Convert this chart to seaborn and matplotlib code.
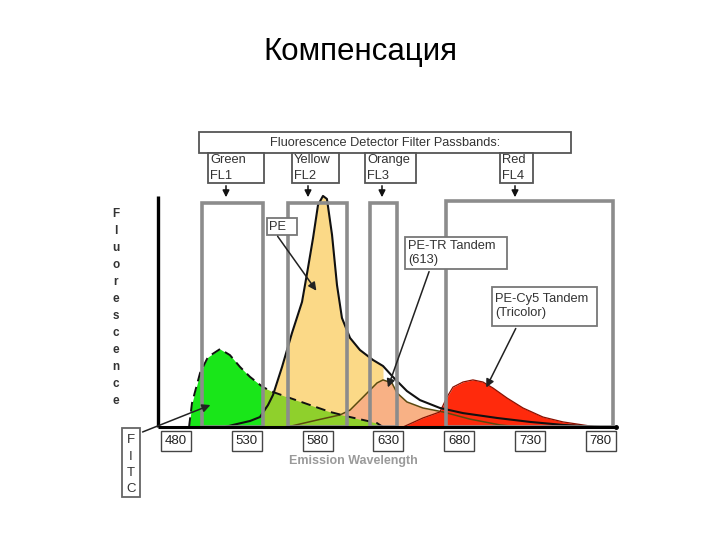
import matplotlib
matplotlib.use("Agg")
import matplotlib.pyplot as plt
import seaborn as sns
import pandas as pd
from matplotlib.patches import Rectangle
from matplotlib.transforms import Affine2D

# ---------------- data ----------------
tick_values = [480, 530, 580, 630, 680, 730, 780]

filter_names = ["Green\nFL1", "Yellow\nFL2", "Orange\nFL3", "Red\nFL4"]
filter_lo = [498.4, 559.1, 617.0, 670.7]
filter_hi = [541.4, 600.8, 636.0, 788.6]
filter_top = [96.6, 96.6, 96.6, 97.4]

green_nm = [489.2, 491.3, 497.0, 502.6, 511.1, 518.1, 525.2, 532.3, 541.4, 548.5, 560.5, 574.6, 588.8, 602.9, 621.9, 626.2]
green_h = [0, 10.3, 23.3, 30.2, 33.6, 31.0, 25.9, 21.6, 17.2, 15.1, 12.5, 9.5, 6.5, 4.3, 1.7, 0]

pe_nm = [514.6, 520.3, 532.3, 539.3, 545.0, 548.5, 554.9, 561.9, 569.0, 573.2, 576.8, 580.3, 583.8, 586.6, 590.2, 593.7, 597.2,
         602.9, 609.9, 619.1, 626.2, 633.2, 643.1, 652.3, 666.4, 682.7, 706.7, 730.0, 753.3, 779.4]
pe_h = [0, 0.9, 2.6, 4.3, 9.5, 13.8, 25.9, 40.5, 53.9, 68.5, 81.5, 95.7, 99.6, 98.3, 82.8, 61.2, 47.0,
        38.4, 33.2, 28.9, 26.3, 21.6, 15.5, 11.6, 8.2, 6.0, 3.9, 2.2, 0.9, 0]

petr_nm = [558.4, 579.6, 595.8, 602.9, 612.1, 622.0, 626.2, 632.5, 636.1, 643.1, 654.4, 668.6, 687.6, 708.8, 722.9]
petr_h = [0, 3.0, 5.2, 7.3, 12.9, 19.0, 20.3, 19.0, 14.7, 10.8, 8.2, 6.5, 3.4, 0.9, 0]

cy5_nm = [640.3, 654.4, 666.4, 671.4, 675.6, 682.7, 689.7, 696.8, 703.9, 713.8, 725.1, 739.2, 753.3, 767.4, 777.3]
cy5_h = [0, 3.9, 6.5, 12.9, 17.2, 19.4, 20.3, 19.4, 16.8, 12.5, 8.2, 4.3, 2.2, 0.9, 0]

# ---------------- figure ----------------
sns.set_style("white")
plt.rcParams['font.family'] = ['Liberation Sans', 'DejaVu Sans']
W, H = 720, 540
fig = plt.figure(figsize=(7.2, 5.4), dpi=100)
ax = fig.add_axes([0, 0, 1, 1])
ax.set_xlim(355.7, 864.2)
ax.set_ylim(-48.7, 184.05)
ax.axis("off")
tpx = Affine2D().scale(1, -1).translate(0, H)  # pixel coords, origin top-left

def series(nm, h):
    return pd.DataFrame({"nm": nm, "h": h})

g = series(green_nm, green_h)
pe = series(pe_nm, pe_h)
tr = series(petr_nm, petr_h)
cy = series(cy5_nm, cy5_h)

# fills
ax.fill_between(pe.nm, 0, pe.h, where=pe.nm <= 626.2, color="#fbd987", lw=0, zorder=1)
ax.fill_between(tr.nm, 0, tr.h, color="#f8b185", lw=0, zorder=2)
ax.fill_between(g.nm, 0, g.h, where=g.nm <= 541.4, color="#19e619", lw=0, zorder=3)
ax.fill_between(g.nm, 0, g.h, where=g.nm >= 541.4, color="#8fd02c", lw=0, zorder=3)
ax.fill_between(cy.nm, 0, cy.h, color="#ff2a0c", lw=0, zorder=4)

# outlines
sns.lineplot(data=tr, x="nm", y="h", color="#5b4a10", lw=1.1, sort=False, ax=ax, zorder=5)
sns.lineplot(data=cy, x="nm", y="h", color="#8a1000", lw=0.9, sort=False, ax=ax, zorder=5)
sns.lineplot(data=pe, x="nm", y="h", color="#111111", lw=1.5, sort=False, ax=ax, zorder=6)
sns.lineplot(data=g, x="nm", y="h", color="#111111", lw=1.4, sort=False, ax=ax, zorder=6,
             linestyle=(0, (5, 3)))

# filter boxes
for lo, hi, top in zip(filter_lo, filter_hi, filter_top):
    ax.add_patch(Rectangle((lo, 0), hi - lo, top, fill=False, ec="#8c8c8c", lw=2.6, zorder=7))

# axes lines
ax.plot([467.3, 467.3], [0, 99.6], color="black", lw=2.4, zorder=8, solid_capstyle="butt")
ax.plot([467.3, 791.0], [0, 0], color="black", lw=2.2, zorder=8, solid_capstyle="butt")
ax.plot([791.0], [0], marker="o", ms=2.5, color="black", zorder=8)

# tick label boxes
for v in tick_values:
    ax.annotate(str(v), xy=(v, 0), xycoords="data", xytext=(0, -10.3), textcoords="offset points",
                ha="center", va="center", fontsize=9.5, color="#222",
                bbox=dict(boxstyle="square,pad=0.3", fc="white", ec="#444", lw=1.0))

ax.text(353, 461, "Emission Wavelength", transform=tpx, ha="center", va="center",
        fontsize=9, fontweight="bold", color="#9a9a9a")

# vertical "Fluorescence"
for i, ch in enumerate("Fluorescence"):
    ax.text(116, 214 + i * 17, ch, transform=tpx, ha="center", va="center",
            fontsize=8.5, fontweight="bold", color="#333")

# title
fig.text(0.5, 1 - 52 / H, "Компенсация", ha="center", va="center", fontsize=22.5, color="black")

# header boxes
def pbox(x0, y0, x1, y1, lw=1.3, ec="#555"):
    ax.add_patch(Rectangle((x0, y0), x1 - x0, y1 - y0, transform=tpx, fill=True, fc="white",
                           ec=ec, lw=lw, zorder=9, clip_on=False))

pbox(199, 132, 571, 153)
ax.text(385, 143, "Fluorescence Detector Filter Passbands:", transform=tpx, ha="center", va="center",
        fontsize=9.2, color="#333", zorder=10)

sub = [(208, 264, 226), (292, 339, 308), (365, 416, 382), (500, 533, 515)]
for (x0, x1, xa), name in zip(sub, filter_names):
    pbox(x0, 153, x1, 183)
    ax.text(x0 + 2, 154, name, transform=tpx, ha="left", va="top", fontsize=9.3,
            color="#333", linespacing=1.45, zorder=10)
    ax.annotate("", xy=(xa, 200), xytext=(xa, 183), xycoords=tpx, textcoords=tpx,
                arrowprops=dict(arrowstyle="-|>", color="#111", lw=1.1, mutation_scale=10), zorder=10)

# dye labels
pbox(267, 218, 297, 235, ec="#777")
ax.text(269, 227, "PE", transform=tpx, ha="left", va="center", fontsize=9.3, color="#333", zorder=10)
ax.annotate("", xy=(318, 293), xytext=(276, 234), xycoords=tpx, textcoords=tpx,
            arrowprops=dict(arrowstyle="-|>", color="#222", lw=1.1, mutation_scale=12), zorder=10)

pbox(405, 237, 507, 269, ec="#777")
ax.text(408, 253, "PE-TR Tandem\n(613)", transform=tpx, ha="left", va="center", fontsize=9.3,
        color="#333", linespacing=1.3, zorder=10)
ax.annotate("", xy=(387, 390), xytext=(430, 269), xycoords=tpx, textcoords=tpx,
            arrowprops=dict(arrowstyle="-|>", color="#222", lw=1.1, mutation_scale=12), zorder=10)

pbox(492, 287, 597, 326, ec="#777")
ax.text(495, 306, "PE-Cy5 Tandem\n(Tricolor)", transform=tpx, ha="left", va="center", fontsize=9.3,
        color="#333", linespacing=1.3, zorder=10)
ax.annotate("", xy=(485, 390), xytext=(517, 326), xycoords=tpx, textcoords=tpx,
            arrowprops=dict(arrowstyle="-|>", color="#222", lw=1.1, mutation_scale=12), zorder=10)

# FITC box
pbox(122, 428, 140, 497, ec="#666")
for i, ch in enumerate("FITC"):
    ax.text(131, 440 + i * 16.5, ch, transform=tpx, ha="center", va="center", fontsize=9.5,
            color="#333", zorder=10)
ax.annotate("", xy=(213, 404), xytext=(140, 433), xycoords=tpx, textcoords=tpx,
            arrowprops=dict(arrowstyle="-|>", color="#222", lw=1.1, mutation_scale=12), zorder=10)

fig.savefig("out.png", dpi=100)
